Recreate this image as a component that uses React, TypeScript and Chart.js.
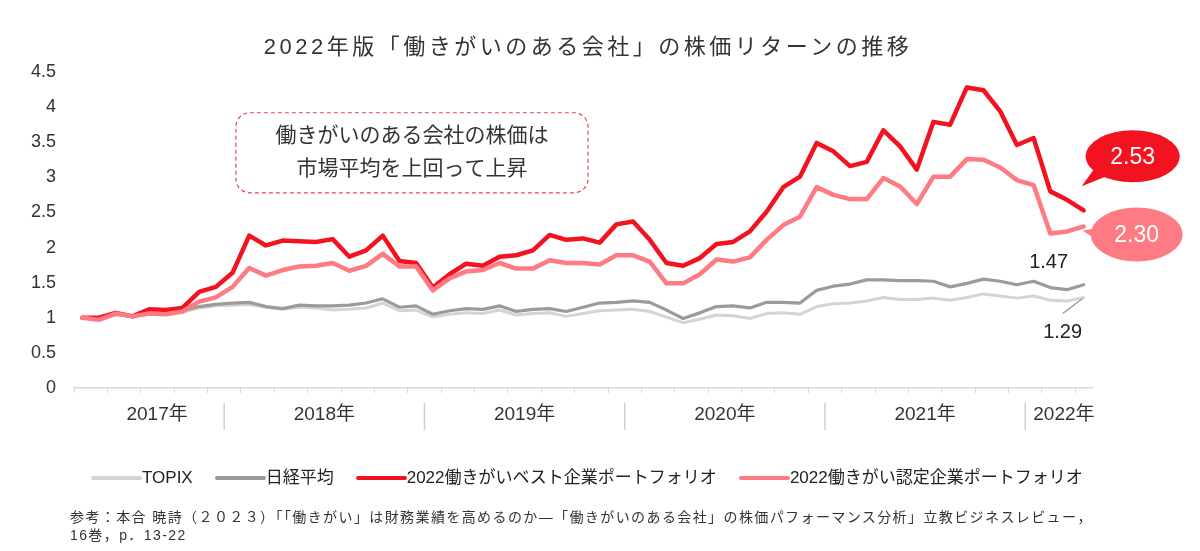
import { useEffect, useRef } from 'react'
import { Chart, registerables, type ChartConfiguration, type Plugin } from 'chart.js'

Chart.register(...registerables)

// monthly observations, Apr 2017 - Apr 2022
const months = [
  '2017/04', '2017/05', '2017/06', '2017/07', '2017/08', '2017/09', '2017/10', '2017/11', '2017/12',
  '2018/01', '2018/02', '2018/03', '2018/04', '2018/05', '2018/06', '2018/07', '2018/08', '2018/09', '2018/10', '2018/11', '2018/12',
  '2019/01', '2019/02', '2019/03', '2019/04', '2019/05', '2019/06', '2019/07', '2019/08', '2019/09', '2019/10', '2019/11', '2019/12',
  '2020/01', '2020/02', '2020/03', '2020/04', '2020/05', '2020/06', '2020/07', '2020/08', '2020/09', '2020/10', '2020/11', '2020/12',
  '2021/01', '2021/02', '2021/03', '2021/04', '2021/05', '2021/06', '2021/07', '2021/08', '2021/09', '2021/10', '2021/11', '2021/12',
  '2022/01', '2022/02', '2022/03', '2022/04',
]

const years = ['2017', '2018', '2019', '2020', '2021', '2022']

const topix = [
  1.0, 0.99, 1.04, 1.02, 1.05, 1.05, 1.08, 1.14, 1.17,
  1.18, 1.19, 1.15, 1.12, 1.15, 1.14, 1.11, 1.12, 1.14, 1.21, 1.1, 1.11,
  1.01, 1.05, 1.07, 1.06, 1.11, 1.04, 1.06, 1.07, 1.02, 1.06, 1.1, 1.11,
  1.12, 1.09, 1.01, 0.93, 0.98, 1.04, 1.03, 0.99, 1.06, 1.07, 1.05, 1.16,
  1.2, 1.21, 1.24, 1.29, 1.26, 1.26, 1.28, 1.25, 1.29, 1.34, 1.31, 1.28,
  1.31, 1.25, 1.24, 1.29,
]

const nikkei = [
  1.0, 1.0, 1.05, 1.03, 1.07, 1.07, 1.1, 1.16, 1.19,
  1.21, 1.22, 1.16, 1.13, 1.18, 1.17, 1.17, 1.18, 1.21, 1.27, 1.15, 1.17,
  1.05, 1.1, 1.13, 1.12, 1.17, 1.09, 1.12, 1.13, 1.09, 1.15, 1.21, 1.22,
  1.24, 1.22, 1.11, 0.99, 1.07, 1.16, 1.17, 1.14, 1.22, 1.22, 1.21, 1.39,
  1.45, 1.48, 1.54, 1.54, 1.53, 1.53, 1.52, 1.44, 1.49, 1.55, 1.52, 1.47,
  1.52, 1.43, 1.4, 1.47,
]

const bestPortfolio = [
  1.0, 1.0, 1.07, 1.02, 1.12, 1.11, 1.14, 1.37, 1.44,
  1.64, 2.17, 2.03, 2.1, 2.09, 2.08, 2.12, 1.87, 1.96, 2.17, 1.81, 1.78,
  1.43, 1.62, 1.77, 1.74, 1.87, 1.89, 1.96, 2.18, 2.11, 2.13, 2.07, 2.33,
  2.37, 2.11, 1.78, 1.74, 1.85, 2.05, 2.08, 2.23, 2.51, 2.86, 3.01, 3.49,
  3.37, 3.16, 3.22, 3.67, 3.44, 3.11, 3.79, 3.75, 4.28, 4.24, 3.94, 3.46,
  3.56, 2.8, 2.68, 2.53,
]

const certifiedPortfolio = [
  1.0, 0.97, 1.06, 1.02, 1.06, 1.05, 1.09, 1.23, 1.29,
  1.44, 1.71, 1.6, 1.68, 1.73, 1.74, 1.78, 1.67, 1.74, 1.91, 1.73, 1.73,
  1.39, 1.56, 1.66, 1.68, 1.78, 1.7, 1.7, 1.82, 1.78, 1.78, 1.76, 1.89,
  1.89, 1.8, 1.49, 1.49, 1.62, 1.83, 1.8, 1.86, 2.11, 2.32, 2.44, 2.86,
  2.75, 2.69, 2.69, 2.99, 2.87, 2.62, 3.01, 3.01, 3.26, 3.25, 3.14, 2.96,
  2.89, 2.2, 2.23, 2.3,
]

const seriesNames = ['TOPIX', '日経平均', '2022働きがいベスト企業ポートフォリオ', '2022働きがい認定企業ポートフォリオ']
const seriesColors = ['#d4d4d4', '#9b9b9b', '#f3121f', '#ff7b83']

const titleText = '2022年版「働きがいのある会社」の株価リターンの推移'
const noteLines = ['働きがいのある会社の株価は', '市場平均を上回って上昇']
const sourceLines = [
  '参考：本合 暁詩（２０２３）「「働きがい」は財務業績を高めるのか―「働きがいのある会社」の株価パフォーマンス分析」立教ビジネスレビュー，',
  '16巻，p．13-22',
]

const fontFamily = "'Liberation Sans', 'Noto Sans CJK JP', sans-serif"
const axisColor = '#d8d8e2'

function drawBubble(
  ctx: CanvasRenderingContext2D,
  px: number,
  py: number,
  text: string,
  color: string,
  dx: number,
  dy: number,
  rx: number,
  ry: number,
  tipX: number,
  tipY: number,
  a1: number,
  a2: number,
) {
  const cx = px + dx
  const cy = py + dy
  ctx.fillStyle = color
  ctx.beginPath()
  ctx.ellipse(cx, cy, rx, ry, 0, 0, Math.PI * 2)
  ctx.fill()
  const r1 = (a1 * Math.PI) / 180
  const r2 = (a2 * Math.PI) / 180
  ctx.beginPath()
  ctx.moveTo(px + tipX, py + tipY)
  ctx.lineTo(cx + rx * 0.9 * Math.cos(r1), cy + ry * 0.9 * Math.sin(r1))
  ctx.lineTo(cx + rx * 0.9 * Math.cos(r2), cy + ry * 0.9 * Math.sin(r2))
  ctx.closePath()
  ctx.fill()
  ctx.fillStyle = '#ffffff'
  ctx.font = `23px ${fontFamily}`
  ctx.textAlign = 'center'
  ctx.textBaseline = 'middle'
  ctx.fillText(text, cx, cy + 1)
}

const annotationPlugin: Plugin<'line'> = {
  id: 'annotations',
  afterDatasetsDraw(chart) {
    const { ctx, chartArea } = chart
    const x = chart.scales.x
    const y = chart.scales.y
    const last = months.length - 1
    const step = x.getPixelForValue(1) - x.getPixelForValue(0)
    ctx.save()

    // year labels and separators under the axis
    ctx.font = `19px ${fontFamily}`
    ctx.fillStyle = '#333'
    ctx.textAlign = 'center'
    ctx.textBaseline = 'middle'
    ctx.strokeStyle = '#cfcfcf'
    ctx.lineWidth = 1.5
    years.forEach((year, k) => {
      const idx = months.map((m, i) => (m.startsWith(year) ? i : -1)).filter((i) => i >= 0)
      const left = Math.max(chartArea.left, x.getPixelForValue(idx[0]) - step / 2)
      const right = Math.min(chartArea.right, x.getPixelForValue(idx[idx.length - 1]) + step / 2)
      const label = `${year}年`
      const w = ctx.measureText(label).width
      let cx = (left + right) / 2
      if (k === 0) cx += 8
      if (cx - w / 2 < left + 8) cx = left + 8 + w / 2
      ctx.fillText(label, cx, chartArea.bottom + 27)
      if (k > 0) {
        ctx.beginPath()
        ctx.moveTo(left, chartArea.bottom + 15)
        ctx.lineTo(left, chartArea.bottom + 42)
        ctx.stroke()
      }
    })

    // dashed note box
    const bx1 = x.getPixelForValue(9.2)
    const bx2 = x.getPixelForValue(30.3)
    const by1 = y.getPixelForValue(3.92)
    const by2 = y.getPixelForValue(2.78)
    ctx.setLineDash([4, 3])
    ctx.strokeStyle = '#e8464e'
    ctx.lineWidth = 1.2
    ctx.beginPath()
    ctx.roundRect(bx1, by1, bx2 - bx1, by2 - by1, 14)
    ctx.stroke()
    ctx.setLineDash([])
    ctx.fillStyle = '#333'
    ctx.font = `21px ${fontFamily}`
    noteLines.forEach((line, k) => ctx.fillText(line, (bx1 + bx2) / 2, by1 + 23 + k * 33))

    // end value callouts
    const ex = x.getPixelForValue(last)
    drawBubble(ctx, ex, y.getPixelForValue(bestPortfolio[last]), bestPortfolio[last].toFixed(2), seriesColors[2],
      49, -54, 47, 26, -2, -24, 125, 152)
    drawBubble(ctx, ex, y.getPixelForValue(certifiedPortfolio[last]), certifiedPortfolio[last].toFixed(2), seriesColors[3],
      53, 8, 46, 27, -1, 4, 168, 195)

    ctx.fillStyle = '#222'
    ctx.font = `20px ${fontFamily}`
    const ny = y.getPixelForValue(nikkei[last])
    ctx.fillText(nikkei[last].toFixed(2), ex - 35, ny - 22)
    const ty = y.getPixelForValue(topix[last])
    ctx.strokeStyle = '#8c92b8'
    ctx.lineWidth = 1.2
    ctx.beginPath()
    ctx.moveTo(ex - 1, ty + 1)
    ctx.lineTo(ex - 21, ty + 16)
    ctx.stroke()
    ctx.fillText(topix[last].toFixed(2), ex - 21, ty + 35)

    ctx.restore()
  },
}

export default function App() {
  const canvasRef = useRef<HTMLCanvasElement | null>(null)
  const chartRef = useRef<Chart<'line'> | null>(null)

  useEffect(() => {
    const canvas = canvasRef.current
    if (!canvas) {
      return
    }
    Chart.getChart(canvas)?.destroy()

    const series = [topix, nikkei, bestPortfolio, certifiedPortfolio]
    const widths = [3, 3.2, 4.5, 4.5]
    const orders = [4, 3, 2, 1]

    const config: ChartConfiguration<'line'> = {
      type: 'line',
      data: {
        labels: months,
        datasets: series.map((data, k) => ({
          label: seriesNames[k],
          data,
          borderColor: seriesColors[k],
          backgroundColor: seriesColors[k],
          borderWidth: widths[k],
          order: orders[k],
        })),
      },
      options: {
        responsive: true,
        maintainAspectRatio: false,
        animation: false,
        layout: { padding: { top: 72, right: 108, left: 0, bottom: 0 } },
        elements: {
          point: { radius: 0, hoverRadius: 0 },
          line: { tension: 0, borderJoinStyle: 'round', borderCapStyle: 'round' },
        },
        plugins: {
          legend: { display: false },
          tooltip: { enabled: false },
        },
        scales: {
          x: {
            offset: true,
            grid: {
              offset: true,
              drawOnChartArea: false,
              drawTicks: true,
              tickLength: 5,
              lineWidth: 1,
              color: (c) => (c.index % 2 === 0 ? axisColor : 'transparent'),
            },
            border: { color: axisColor, width: 1.5 },
            ticks: { display: false },
            afterFit: (scale) => {
              scale.height = 163
            },
          },
          y: {
            min: 0,
            max: 4.5,
            grid: { display: false, drawTicks: false },
            border: { display: false },
            ticks: {
              stepSize: 0.5,
              padding: 18,
              color: '#333',
              font: { family: fontFamily, size: 18 },
              callback: (value) => String(Number(value)),
            },
            afterFit: (scale) => {
              scale.width = 74
            },
          },
        },
      },
      plugins: [annotationPlugin],
    }

    chartRef.current = new Chart(canvas, config)

    return () => {
      chartRef.current?.destroy()
      chartRef.current = null
    }
  }, [])

  return (
    <div style={{ position: 'absolute', left: 0, top: 0, width: 1200, height: 551, background: '#fff', fontFamily }}>
      <div style={{ position: 'absolute', inset: 0 }}>
        <canvas ref={canvasRef} aria-label="株価リターンの推移" role="img" />
      </div>
      <div
        style={{
          position: 'absolute',
          left: 0,
          top: 32,
          width: 1176,
          textAlign: 'center',
          fontSize: 22,
          lineHeight: '30px',
          letterSpacing: '3.5px',
          color: '#333',
        }}
      >
        {titleText}
      </div>
      <div
        style={{
          position: 'absolute',
          left: 91,
          top: 466,
          display: 'flex',
          alignItems: 'center',
          fontSize: 17,
          lineHeight: '24px',
          color: '#222',
          whiteSpace: 'nowrap',
        }}
      >
        {seriesNames.map((name, k) => (
          <div key={name} style={{ display: 'flex', alignItems: 'center', marginRight: 22 }}>
            <span style={{ display: 'inline-block', width: 51, height: 4, background: seriesColors[k], borderRadius: 2 }} />
            <span>{name}</span>
          </div>
        ))}
      </div>
      <div
        style={{
          position: 'absolute',
          left: 70,
          top: 508,
          fontSize: 14,
          lineHeight: '18px',
          letterSpacing: '1.4px',
          color: '#333',
          whiteSpace: 'nowrap',
        }}
      >
        {sourceLines.map((line) => (
          <div key={line}>{line}</div>
        ))}
      </div>
    </div>
  )
}
